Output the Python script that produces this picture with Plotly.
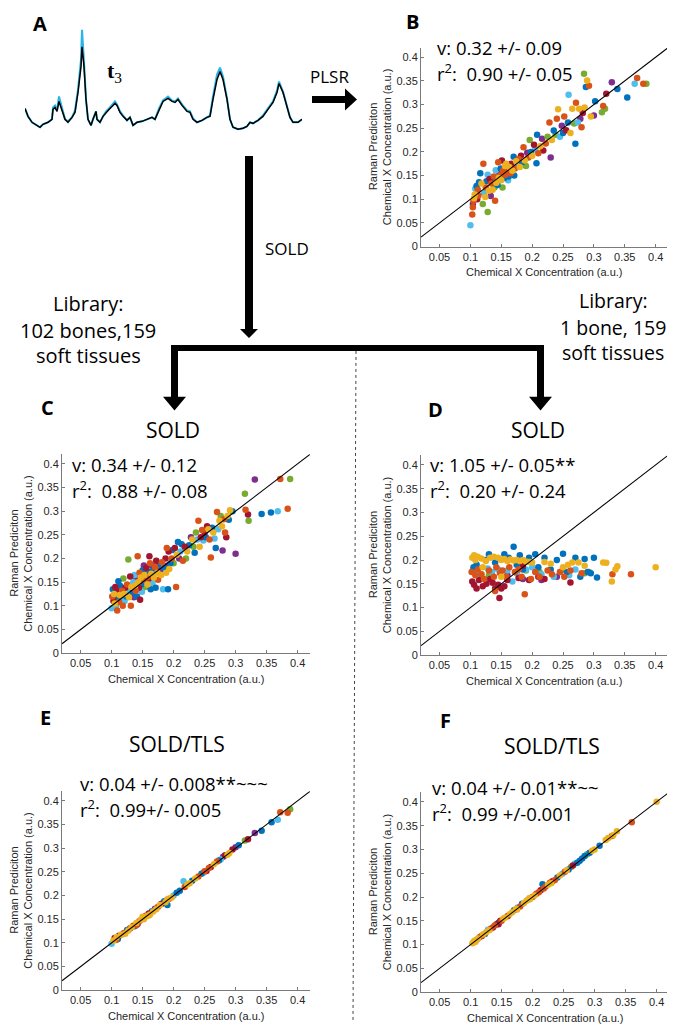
import plotly.graph_objects as go

W, H = 675, 1027
OX, OY = 8, 8          # default page body margin of the html page
FW, FH = W - OX, H - OY

# ---------------- data ----------------
# Panel A: spectrum t3 (channel index, intensity a.u.)
spec_ch = [0, 3, 7, 12, 15, 18, 23, 27, 28, 30, 32, 34, 37, 40, 43, 47, 50, 53, 56, 57,
           59, 61, 63, 66, 68, 71, 72, 75, 78, 81, 84, 87, 90, 92, 95, 98, 102, 105, 108, 112,
           117, 122, 127, 130, 134, 138, 143, 147, 150, 153, 157, 162, 165, 168, 172, 177, 182, 185, 188, 192,
           195, 198, 202, 205, 208, 213, 218, 222, 225, 228, 233, 238, 243, 248, 252, 254, 258, 262, 265, 268,
           273, 277]
spec_black = [0.21, 0.13, 0.07, 0.04, 0.02, 0.05, 0.07, 0.10, 0.20, 0.22, 0.18, 0.28, 0.20, 0.10, 0.07, 0.12, 0.17, 0.37, 0.63, 0.83,
              0.63, 0.30, 0.10, 0.04, 0.10, 0.18, 0.10, 0.07, 0.13, 0.17, 0.20, 0.23, 0.26, 0.24, 0.17, 0.13, 0.09, 0.12, 0.04, 0.07,
              0.08, 0.10, 0.12, 0.10, 0.20, 0.28, 0.31, 0.28, 0.27, 0.30, 0.24, 0.18, 0.17, 0.10, 0.07, 0.09, 0.12, 0.13, 0.30, 0.50,
              0.58, 0.50, 0.30, 0.10, 0.02, 0.00, 0.01, 0.03, 0.07, 0.06, 0.09, 0.13, 0.20, 0.27, 0.37, 0.46, 0.37, 0.23, 0.12, 0.07,
              0.07, 0.10]
spec_cyan = [0.21, 0.13, 0.07, 0.04, 0.02, 0.05, 0.07, 0.10, 0.22, 0.24, 0.19, 0.33, 0.21, 0.10, 0.08, 0.12, 0.19, 0.40, 0.70, 1.00,
             0.68, 0.30, 0.10, 0.04, 0.10, 0.18, 0.10, 0.07, 0.13, 0.18, 0.21, 0.24, 0.28, 0.25, 0.18, 0.14, 0.09, 0.12, 0.04, 0.07,
             0.08, 0.10, 0.12, 0.10, 0.21, 0.29, 0.33, 0.29, 0.28, 0.31, 0.25, 0.19, 0.18, 0.11, 0.07, 0.09, 0.12, 0.14, 0.33, 0.55,
             0.62, 0.53, 0.31, 0.10, 0.02, 0.00, 0.01, 0.03, 0.07, 0.06, 0.09, 0.14, 0.21, 0.28, 0.39, 0.48, 0.38, 0.23, 0.12, 0.07,
             0.07, 0.10]

# Scatter panels: (true concentration, Raman prediction, colour code)
B_points = [
    (0.100, 0.045, 'c'), (0.103, 0.068, 'o'), (0.104, 0.083, 'o'), (0.104, 0.090, 'p'), (0.105, 0.097, 'o'), (0.106, 0.102, 'y'), (0.107, 0.110, 'y'), (0.108, 0.122, 'c'), (0.110, 0.128, 'b'), (0.112, 0.120, 'o'),
    (0.111, 0.100, 'r'), (0.113, 0.108, 'o'), (0.114, 0.136, 'b'), (0.116, 0.155, 'b'), (0.118, 0.133, 'y'), (0.120, 0.090, 'g'), (0.121, 0.175, 'o'), (0.122, 0.113, 'c'), (0.124, 0.105, 'y'), (0.125, 0.125, 'o'),
    (0.126, 0.138, 'b'), (0.128, 0.073, 'g'), (0.128, 0.152, 'c'), (0.130, 0.118, 'y'), (0.131, 0.143, 'r'), (0.133, 0.107, 'p'), (0.134, 0.133, 'o'), (0.136, 0.120, 'y'), (0.137, 0.140, 'b'), (0.138, 0.148, 'o'),
    (0.139, 0.125, 'g'), (0.140, 0.097, 'o'), (0.141, 0.161, 'c'), (0.142, 0.135, 'y'), (0.144, 0.130, 'b'), (0.145, 0.178, 'o'), (0.146, 0.145, 'y'), (0.147, 0.155, 'p'), (0.148, 0.150, 'o'), (0.149, 0.165, 'b'),
    (0.150, 0.140, 'y'), (0.151, 0.182, 'r'), (0.152, 0.125, 'g'), (0.153, 0.160, 'o'), (0.155, 0.145, 'b'), (0.156, 0.170, 'y'), (0.157, 0.152, 'o'), (0.158, 0.175, 'y'), (0.160, 0.160, 'o'), (0.161, 0.140, 'c'),
    (0.162, 0.148, 'b'), (0.163, 0.168, 'y'), (0.165, 0.155, 'o'), (0.166, 0.175, 'r'), (0.168, 0.160, 'y'), (0.170, 0.190, 'b'), (0.171, 0.150, 'b'), (0.172, 0.165, 'o'), (0.174, 0.180, 'y'), (0.176, 0.172, 'c'),
    (0.178, 0.185, 'o'), (0.180, 0.168, 'y'), (0.182, 0.192, 'r'), (0.184, 0.178, 'b'), (0.186, 0.210, 'o'), (0.188, 0.182, 'y'), (0.190, 0.170, 'g'), (0.192, 0.198, 'p'), (0.194, 0.188, 'o'), (0.196, 0.225, 'g'),
    (0.198, 0.200, 'b'), (0.200, 0.192, 'y'), (0.203, 0.215, 'r'), (0.205, 0.205, 'c'), (0.207, 0.176, 'b'), (0.208, 0.236, 'b'), (0.210, 0.197, 'o'), (0.213, 0.212, 'y'), (0.216, 0.228, 'p'), (0.218, 0.203, 'r'),
    (0.222, 0.218, 'o'), (0.225, 0.232, 'g'), (0.228, 0.262, 'o'), (0.230, 0.188, 'p'), (0.232, 0.225, 'y'), (0.235, 0.245, 'b'), (0.238, 0.236, 'g'), (0.240, 0.270, 'o'), (0.242, 0.290, 'y'), (0.245, 0.232, 'c'),
    (0.248, 0.255, 'p'), (0.250, 0.240, 'b'), (0.252, 0.275, 'o'), (0.255, 0.246, 'r'), (0.258, 0.262, 'b'), (0.259, 0.321, 'c'), (0.262, 0.240, 'y'), (0.265, 0.291, 'y'), (0.268, 0.260, 'g'), (0.270, 0.217, 'b'),
    (0.271, 0.304, 'o'), (0.274, 0.262, 'c'), (0.276, 0.291, 'y'), (0.278, 0.270, 'p'), (0.280, 0.252, 'o'), (0.282, 0.282, 'r'), (0.284, 0.365, 'g'), (0.285, 0.294, 'y'), (0.287, 0.337, 'b'), (0.289, 0.351, 'y'),
    (0.292, 0.340, 'o'), (0.295, 0.275, 'y'), (0.300, 0.277, 'p'), (0.302, 0.307, 'b'), (0.313, 0.284, 'g'), (0.315, 0.297, 'o'), (0.318, 0.291, 'g'), (0.320, 0.323, 'r'), (0.329, 0.347, 'p'), (0.338, 0.333, 'b'),
    (0.354, 0.315, 'b'), (0.366, 0.344, 'c'), (0.370, 0.356, 'o'), (0.380, 0.344, 'o'), (0.385, 0.344, 'g'),
]

C_points = [
    (0.100, 0.095, 'c'), (0.101, 0.120, 'o'), (0.102, 0.135, 'b'), (0.103, 0.110, 'r'), (0.104, 0.125, 'y'), (0.105, 0.105, 'y'), (0.106, 0.140, 'r'), (0.107, 0.100, 'c'), (0.108, 0.118, 'b'), (0.109, 0.090, 'o'),
    (0.110, 0.130, 'r'), (0.111, 0.152, 'b'), (0.112, 0.108, 'o'), (0.113, 0.123, 'y'), (0.114, 0.142, 'b'), (0.115, 0.115, 'c'), (0.117, 0.132, 'o'), (0.118, 0.100, 'o'), (0.119, 0.158, 'g'), (0.120, 0.125, 'y'),
    (0.121, 0.110, 'c'), (0.122, 0.138, 'r'), (0.124, 0.120, 'b'), (0.125, 0.145, 'o'), (0.127, 0.198, 'g'), (0.128, 0.118, 'y'), (0.129, 0.132, 'c'), (0.130, 0.162, 'r'), (0.131, 0.100, 'o'), (0.132, 0.140, 'y'),
    (0.134, 0.128, 'b'), (0.135, 0.150, 'c'), (0.136, 0.118, 'p'), (0.137, 0.165, 'c'), (0.138, 0.143, 'y'), (0.139, 0.132, 'o'), (0.140, 0.158, 'p'), (0.141, 0.120, 'b'), (0.142, 0.205, 'o'), (0.143, 0.150, 'y'),
    (0.144, 0.138, 'r'), (0.145, 0.170, 'o'), (0.146, 0.113, 'r'), (0.147, 0.160, 'y'), (0.148, 0.145, 'b'), (0.149, 0.130, 'c'), (0.150, 0.175, 'b'), (0.151, 0.155, 'o'), (0.152, 0.185, 'p'), (0.153, 0.165, 'y'),
    (0.154, 0.140, 'g'), (0.155, 0.150, 'c'), (0.156, 0.180, 'r'), (0.157, 0.160, 'o'), (0.158, 0.145, 'y'), (0.159, 0.172, 'b'), (0.160, 0.158, 'r'), (0.161, 0.205, 'r'), (0.162, 0.190, 'o'), (0.163, 0.135, 'b'),
    (0.164, 0.168, 'y'), (0.165, 0.185, 'p'), (0.166, 0.148, 'c'), (0.167, 0.175, 'b'), (0.168, 0.160, 'y'), (0.170, 0.182, 'o'), (0.171, 0.138, 'b'), (0.172, 0.195, 'r'), (0.174, 0.170, 'y'), (0.175, 0.155, 'o'),
    (0.176, 0.188, 'b'), (0.178, 0.175, 'p'), (0.180, 0.165, 'y'), (0.181, 0.192, 'o'), (0.183, 0.135, 'c'), (0.185, 0.180, 'b'), (0.187, 0.200, 'r'), (0.188, 0.170, 'y'), (0.189, 0.222, 'o'), (0.190, 0.185, 'p'),
    (0.191, 0.135, 'b'), (0.192, 0.215, 'r'), (0.193, 0.178, 'y'), (0.195, 0.190, 'b'), (0.197, 0.200, 'o'), (0.198, 0.218, 'b'), (0.200, 0.190, 'g'), (0.202, 0.222, 'r'), (0.204, 0.140, 'o'), (0.205, 0.208, 'y'),
    (0.207, 0.235, 'b'), (0.209, 0.200, 'p'), (0.211, 0.215, 'c'), (0.213, 0.230, 'b'), (0.215, 0.195, 'o'), (0.218, 0.225, 'r'), (0.220, 0.200, 'g'), (0.222, 0.215, 'y'), (0.225, 0.228, 'b'), (0.228, 0.245, 'p'),
    (0.230, 0.240, 'y'), (0.232, 0.225, 'g'), (0.234, 0.212, 'b'), (0.236, 0.255, 'g'), (0.238, 0.240, 'c'), (0.240, 0.280, 'o'), (0.242, 0.225, 'y'), (0.244, 0.245, 'r'), (0.246, 0.260, 'o'), (0.248, 0.238, 'c'),
    (0.250, 0.255, 'r'), (0.252, 0.245, 'b'), (0.254, 0.268, 'r'), (0.256, 0.262, 'y'), (0.258, 0.240, 'o'), (0.260, 0.202, 'o'), (0.262, 0.265, 'b'), (0.264, 0.255, 'y'), (0.266, 0.242, 'c'), (0.268, 0.222, 'b'),
    (0.270, 0.298, 'o'), (0.272, 0.262, 'c'), (0.274, 0.280, 'y'), (0.276, 0.290, 'g'), (0.278, 0.268, 'y'), (0.279, 0.217, 'p'), (0.281, 0.283, 'o'), (0.283, 0.255, 'o'), (0.285, 0.245, 'r'), (0.287, 0.290, 'y'),
    (0.289, 0.282, 'b'), (0.291, 0.302, 'y'), (0.295, 0.300, 'b'), (0.300, 0.210, 'p'), (0.315, 0.337, 'g'), (0.316, 0.303, 'o'), (0.320, 0.293, 'r'), (0.321, 0.280, 'g'), (0.331, 0.367, 'p'), (0.342, 0.294, 'b'),
    (0.357, 0.297, 'b'), (0.368, 0.300, 'c'), (0.372, 0.368, 'o'), (0.384, 0.305, 'o'), (0.388, 0.368, 'g'),
]

D_points = [
    (0.103, 0.205, 'y'), (0.106, 0.210, 'y'), (0.108, 0.200, 'y'), (0.112, 0.207, 'y'), (0.118, 0.203, 'y'), (0.125, 0.198, 'y'), (0.132, 0.205, 'y'), (0.138, 0.207, 'y'), (0.145, 0.205, 'y'), (0.150, 0.200, 'y'),
    (0.155, 0.202, 'y'), (0.160, 0.198, 'y'), (0.165, 0.201, 'y'), (0.170, 0.199, 'y'), (0.175, 0.200, 'y'), (0.180, 0.198, 'y'), (0.185, 0.200, 'y'), (0.190, 0.197, 'y'), (0.195, 0.196, 'y'), (0.200, 0.195, 'y'),
    (0.220, 0.196, 'y'), (0.230, 0.192, 'y'), (0.250, 0.185, 'y'), (0.258, 0.190, 'y'), (0.265, 0.195, 'y'), (0.275, 0.195, 'y'), (0.285, 0.188, 'y'), (0.315, 0.195, 'y'), (0.320, 0.194, 'y'), (0.335, 0.180, 'y'),
    (0.338, 0.187, 'y'), (0.329, 0.155, 'y'), (0.400, 0.185, 'y'), (0.150, 0.165, 'y'), (0.120, 0.185, 'y'),
    (0.105, 0.185, 'b'), (0.110, 0.190, 'b'), (0.125, 0.200, 'b'), (0.130, 0.212, 'b'), (0.140, 0.195, 'b'), (0.155, 0.212, 'b'), (0.162, 0.205, 'b'), (0.170, 0.228, 'b'), (0.175, 0.190, 'b'), (0.180, 0.210, 'b'),
    (0.185, 0.180, 'b'), (0.195, 0.205, 'b'), (0.205, 0.212, 'b'), (0.210, 0.185, 'b'), (0.220, 0.205, 'b'), (0.230, 0.180, 'b'), (0.240, 0.200, 'b'), (0.250, 0.213, 'b'), (0.256, 0.175, 'b'), (0.270, 0.205, 'b'),
    (0.278, 0.165, 'b'), (0.285, 0.202, 'b'), (0.290, 0.175, 'b'), (0.300, 0.205, 'b'), (0.305, 0.163, 'b'), (0.295, 0.172, 'b'),
    (0.104, 0.178, 'c'), (0.115, 0.170, 'c'), (0.128, 0.182, 'c'), (0.135, 0.175, 'c'), (0.145, 0.180, 'c'), (0.160, 0.178, 'c'), (0.175, 0.172, 'c'), (0.190, 0.180, 'c'), (0.200, 0.185, 'c'), (0.215, 0.170, 'c'),
    (0.235, 0.165, 'c'), (0.260, 0.168, 'c'), (0.270, 0.180, 'c'), (0.168, 0.155, 'c'),
    (0.102, 0.175, 'o'), (0.108, 0.168, 'o'), (0.112, 0.180, 'o'), (0.118, 0.170, 'o'), (0.122, 0.160, 'o'), (0.130, 0.178, 'o'), (0.138, 0.165, 'o'), (0.142, 0.185, 'o'), (0.148, 0.172, 'o'), (0.152, 0.178, 'o'),
    (0.158, 0.165, 'o'), (0.163, 0.185, 'o'), (0.172, 0.175, 'o'), (0.178, 0.180, 'o'), (0.183, 0.165, 'o'), (0.188, 0.128, 'o'), (0.198, 0.160, 'o'), (0.205, 0.175, 'o'), (0.212, 0.165, 'o'), (0.225, 0.178, 'o'),
    (0.232, 0.170, 'o'), (0.245, 0.175, 'o'), (0.252, 0.165, 'o'), (0.262, 0.178, 'o'), (0.280, 0.172, 'o'), (0.330, 0.170, 'o'), (0.360, 0.170, 'o'), (0.140, 0.135, 'o'),
    (0.103, 0.155, 'r'), (0.106, 0.148, 'r'), (0.110, 0.140, 'r'), (0.114, 0.158, 'r'), (0.120, 0.145, 'r'), (0.126, 0.150, 'r'), (0.132, 0.160, 'r'), (0.136, 0.152, 'r'), (0.140, 0.140, 'r'), (0.145, 0.148, 'r'),
    (0.147, 0.120, 'r'), (0.150, 0.140, 'r'), (0.155, 0.145, 'r'), (0.160, 0.158, 'r'), (0.178, 0.162, 'r'), (0.195, 0.158, 'r'), (0.210, 0.165, 'r'), (0.220, 0.160, 'r'), (0.262, 0.153, 'r'), (0.185, 0.188, 'r'),
    (0.130, 0.168, 'g'), (0.190, 0.178, 'g'), (0.212, 0.175, 'g'), (0.250, 0.180, 'g'), (0.285, 0.172, 'g'), (0.292, 0.175, 'g'),
    (0.160, 0.168, 'p'), (0.185, 0.160, 'p'), (0.215, 0.158, 'p'), (0.240, 0.165, 'p'),
]

E_points = [
    (0.100, 0.098, 'c'), (0.103, 0.105, 'y'), (0.105, 0.110, 'r'), (0.107, 0.106, 'o'), (0.108, 0.112, 'y'), (0.110, 0.108, 'b'), (0.112, 0.115, 'r'), (0.115, 0.117, 'y'), (0.118, 0.118, 'c'), (0.120, 0.121, 'o'),
    (0.122, 0.119, 'y'), (0.125, 0.127, 'b'), (0.127, 0.126, 'y'), (0.130, 0.131, 'r'), (0.132, 0.133, 'y'), (0.135, 0.136, 'o'), (0.137, 0.135, 'b'), (0.140, 0.142, 'y'), (0.142, 0.140, 'p'), (0.145, 0.146, 'o'),
    (0.147, 0.149, 'y'), (0.150, 0.152, 'c'), (0.152, 0.150, 'y'), (0.155, 0.157, 'o'), (0.157, 0.156, 'y'), (0.160, 0.162, 'r'), (0.162, 0.160, 'y'), (0.165, 0.167, 'b'), (0.167, 0.166, 'y'), (0.170, 0.172, 'p'),
    (0.172, 0.171, 'y'), (0.175, 0.176, 'o'), (0.178, 0.180, 'y'), (0.180, 0.182, 'r'), (0.183, 0.184, 'b'), (0.185, 0.188, 'b'), (0.187, 0.186, 'y'), (0.190, 0.180, 'b'), (0.190, 0.192, 'y'), (0.193, 0.193, 'o'),
    (0.197, 0.196, 'y'), (0.200, 0.200, 'c'), (0.205, 0.206, 'b'), (0.210, 0.210, 'b'), (0.216, 0.230, 'c'), (0.218, 0.218, 'o'), (0.222, 0.223, 'y'), (0.226, 0.226, 'y'), (0.230, 0.231, 'b'), (0.235, 0.236, 'y'),
    (0.240, 0.240, 'o'), (0.245, 0.246, 'b'), (0.248, 0.248, 'c'), (0.250, 0.251, 'o'), (0.253, 0.252, 'r'), (0.257, 0.258, 'o'), (0.260, 0.260, 'r'), (0.265, 0.266, 'y'), (0.270, 0.272, 'o'), (0.273, 0.274, 'b'),
    (0.276, 0.276, 'c'), (0.280, 0.282, 'p'), (0.283, 0.285, 'r'), (0.287, 0.286, 'y'), (0.290, 0.290, 'y'), (0.295, 0.297, 'r'), (0.300, 0.302, 'p'), (0.305, 0.306, 'b'), (0.315, 0.316, 'g'), (0.320, 0.319, 'r'),
    (0.331, 0.332, 'p'), (0.342, 0.337, 'b'), (0.358, 0.355, 'b'), (0.368, 0.360, 'c'), (0.372, 0.376, 'o'), (0.384, 0.375, 'o'), (0.388, 0.382, 'g'), (0.150, 0.155, 'y'), (0.160, 0.158, 'y'), (0.140, 0.137, 'o'),
]

F_points = [
    (0.103, 0.103, 'y'), (0.105, 0.105, 'o'), (0.106, 0.108, 'y'), (0.108, 0.106, 'y'), (0.110, 0.110, 'c'), (0.112, 0.113, 'y'), (0.115, 0.116, 'o'), (0.118, 0.118, 'r'), (0.120, 0.121, 'y'), (0.123, 0.122, 'b'),
    (0.125, 0.126, 'y'), (0.128, 0.131, 'c'), (0.130, 0.130, 'y'), (0.133, 0.134, 'o'), (0.136, 0.136, 'r'), (0.139, 0.140, 'o'), (0.142, 0.143, 'r'), (0.145, 0.146, 'b'), (0.148, 0.150, 'r'), (0.150, 0.150, 'o'),
    (0.153, 0.155, 'y'), (0.156, 0.157, 'y'), (0.160, 0.160, 'r'), (0.163, 0.164, 'y'), (0.167, 0.168, 'y'), (0.170, 0.172, 'b'), (0.173, 0.175, 'y'), (0.176, 0.178, 'c'), (0.180, 0.180, 'o'), (0.183, 0.186, 'b'),
    (0.186, 0.187, 'y'), (0.190, 0.192, 'y'), (0.193, 0.194, 'c'), (0.196, 0.196, 'y'), (0.200, 0.200, 'o'), (0.203, 0.203, 'y'), (0.206, 0.207, 'o'), (0.210, 0.210, 'o'), (0.213, 0.214, 'r'), (0.216, 0.227, 'b'),
    (0.218, 0.218, 'o'), (0.221, 0.222, 'o'), (0.225, 0.226, 'y'), (0.228, 0.230, 'o'), (0.232, 0.233, 'r'), (0.236, 0.236, 'o'), (0.240, 0.241, 'b'), (0.244, 0.245, 'y'), (0.248, 0.249, 'c'), (0.252, 0.253, 'o'),
    (0.255, 0.256, 'y'), (0.258, 0.258, 'b'), (0.262, 0.263, 'g'), (0.265, 0.266, 'r'), (0.268, 0.270, 'c'), (0.272, 0.272, 'b'), (0.276, 0.276, 'b'), (0.280, 0.281, 'b'), (0.284, 0.286, 'b'), (0.288, 0.290, 'g'),
    (0.292, 0.293, 'b'), (0.296, 0.297, 'y'), (0.300, 0.300, 'y'), (0.308, 0.308, 'b'), (0.318, 0.320, 'y'), (0.322, 0.324, 'y'), (0.328, 0.328, 'o'), (0.330, 0.330, 'y'), (0.336, 0.338, 'y'), (0.360, 0.357, 'o'),
    (0.400, 0.400, 'y'), (0.145, 0.143, 'r'), (0.175, 0.174, 'y'), (0.195, 0.198, 'y'), (0.230, 0.229, 'y'),
]

identity_line = [0.02, 0.42]
x_ticks = [0.05, 0.1, 0.15, 0.2, 0.25, 0.3, 0.35, 0.4]
x_tick_text = ['0.05', '0.1', '0.15', '0.2', '0.25', '0.3', '0.35', '0.4']
y_ticks = [0, 0.05, 0.1, 0.15, 0.2, 0.25, 0.3, 0.35, 0.4]
y_tick_text = ['0', '0.05', '0.1', '0.15', '0.2', '0.25', '0.3', '0.35', '0.4']

stats = {
    'B': ('v: 0.32 +/- 0.09', 'r<sup>2</sup>:&nbsp; 0.90 +/- 0.05'),
    'C': ('v: 0.34 +/- 0.12', 'r<sup>2</sup>:&nbsp; 0.88 +/- 0.08'),
    'D': ('v: 1.05 +/- 0.05**', 'r<sup>2</sup>:&nbsp; 0.20 +/- 0.24'),
    'E': ('v: 0.04 +/- 0.008**~~~', 'r<sup>2</sup>:&nbsp; 0.99+/- 0.005'),
    'F': ('v: 0.04 +/- 0.01**~~', 'r<sup>2</sup>:&nbsp; 0.99 +/-0.001'),
}

palette = {'b': '#0072BD', 'o': '#D95319', 'y': '#EDB120', 'p': '#7E2F8E',
           'g': '#77AC30', 'c': '#4DBEEE', 'r': '#A2142F'}
draw_order = ['p', 'g', 'c', 'b', 'r', 'o', 'y']

# ---------------- layout helpers (page pixels -> paper) ----------------
def PX(px):
    return (px - OX) / FW


def PY(py):
    return 1 - (py - OY) / FH


panel_box = {
    'B': (421, 668, 48, 248),
    'C': (62, 310, 457, 657),
    'D': (421, 668, 458, 659),
    'E': (62, 310, 796, 996),
    'F': (421, 669, 797, 998),
}
panel_points = {'B': B_points, 'C': C_points, 'D': D_points, 'E': E_points, 'F': F_points}
stat_pos = {'B': (435, 48), 'C': (70, 467), 'D': (428, 467), 'E': (78, 788), 'F': (430, 792)}
letter_pos = {'A': (40, 24), 'B': (412, 22), 'C': (47, 410), 'D': (435, 412), 'E': (45, 722), 'F': (445, 725)}
subtitle = {'C': ('SOLD', 173, 432), 'D': ('SOLD', 538, 432), 'E': ('SOLD/TLS', 177, 748), 'F': ('SOLD/TLS', 552, 750)}

TICK_FONT = dict(family='Liberation Sans, Arial', size=11, color='#262626')
TEXT_FONT = 'Open Sans, Noto Sans, sans-serif'
AXIS_COLOR = '#7a7a7a'

fig = go.Figure()
layout = dict(width=FW, height=FH, margin=dict(l=0, r=0, t=0, b=0),
              paper_bgcolor='white', plot_bgcolor='white', showlegend=False)
annotations = []
shapes = []

# Panel A spectrum axis
layout['xaxis'] = dict(domain=[PX(25), PX(302)], range=[0, 277], visible=False, anchor='y')
layout['yaxis'] = dict(domain=[PY(135), PY(25)], range=[-0.05, 1.05], visible=False, anchor='x')
fig.add_trace(go.Scatter(x=spec_ch, y=spec_cyan, mode='lines', line=dict(color='#29B5E8', width=2.0),
                         xaxis='x', yaxis='y', hoverinfo='skip'))
fig.add_trace(go.Scatter(x=spec_ch, y=spec_black, mode='lines', line=dict(color='black', width=1.5),
                         xaxis='x', yaxis='y', hoverinfo='skip'))

for i, key in enumerate(['B', 'C', 'D', 'E', 'F'], start=2):
    x0, x1, y0, y1 = panel_box[key]
    xa, ya = f'x{i}', f'y{i}'
    layout[f'xaxis{i}'] = dict(domain=[PX(x0), PX(x1)], range=[0.02, 0.42], anchor=ya,
                               showline=True, linecolor=AXIS_COLOR, linewidth=1, mirror=False,
                               showgrid=False, zeroline=False, ticks='inside', ticklen=3,
                               tickcolor=AXIS_COLOR, tickvals=x_ticks, ticktext=x_tick_text,
                               tickfont=TICK_FONT, fixedrange=True)
    layout[f'yaxis{i}'] = dict(domain=[PY(y1), PY(y0)], range=[0, 0.42], anchor=xa,
                               showline=True, linecolor=AXIS_COLOR, linewidth=1, mirror=False,
                               showgrid=False, zeroline=False, ticks='inside', ticklen=3,
                               tickcolor=AXIS_COLOR, tickvals=y_ticks, ticktext=y_tick_text,
                               tickfont=TICK_FONT, fixedrange=True)
    pts = panel_points[key]
    for code in draw_order:
        sel = [p for p in pts if p[2] == code]
        if not sel:
            continue
        fig.add_trace(go.Scatter(x=[p[0] for p in sel], y=[p[1] for p in sel], mode='markers',
                                 marker=dict(color=palette[code], size=6.5, line=dict(width=0)),
                                 xaxis=xa, yaxis=ya, hoverinfo='skip'))
    fig.add_trace(go.Scatter(x=identity_line, y=identity_line, mode='lines',
                             line=dict(color='black', width=1.1), xaxis=xa, yaxis=ya,
                             hoverinfo='skip', cliponaxis=False))

    cx = (x0 + x1) / 2
    cy = (y0 + y1) / 2
    annotations.append(dict(text='Chemical X Concentration (a.u.)', x=PX(cx), y=PY(y1 + 26),
                            xref='paper', yref='paper', showarrow=False, xanchor='center',
                            yanchor='middle', font=TICK_FONT))
    annotations.append(dict(text='Raman Prediciton', x=PX(x0 - 48), y=PY(cy), textangle=-90,
                            xref='paper', yref='paper', showarrow=False, xanchor='center',
                            yanchor='middle', font=TICK_FONT))
    annotations.append(dict(text='Chemical X Concentration (a.u.)', x=PX(x0 - 34), y=PY(cy),
                            textangle=-90, xref='paper', yref='paper', showarrow=False,
                            xanchor='center', yanchor='middle', font=TICK_FONT))
    sx, sy = stat_pos[key]
    l1, l2 = stats[key]
    annotations.append(dict(text=l1, x=PX(sx), y=PY(sy), xref='paper', yref='paper',
                            showarrow=False, xanchor='left', yanchor='middle',
                            font=dict(family=TEXT_FONT, size=18.5, color='black')))
    annotations.append(dict(text=l2, x=PX(sx), y=PY(sy + 25), xref='paper', yref='paper',
                            showarrow=False, xanchor='left', yanchor='middle',
                            font=dict(family=TEXT_FONT, size=18.5, color='black')))

for letter, (lx, ly) in letter_pos.items():
    annotations.append(dict(text=f'<b>{letter}</b>', x=PX(lx), y=PY(ly), xref='paper', yref='paper',
                            showarrow=False, xanchor='center', yanchor='middle',
                            font=dict(family=TEXT_FONT, size=20, color='black')))
for key, (txt, sx, sy) in subtitle.items():
    annotations.append(dict(text=txt, x=PX(sx), y=PY(sy), xref='paper', yref='paper',
                            showarrow=False, xanchor='center', yanchor='middle',
                            font=dict(family=TEXT_FONT, size=21, color='black')))

annotations.append(dict(text='<b>t</b><sub>3</sub>', x=PX(114), y=PY(72), xref='paper', yref='paper',
                        showarrow=False, xanchor='center', yanchor='middle',
                        font=dict(family='Liberation Serif, Times New Roman, serif', size=22, color='black')))
annotations.append(dict(text='PLSR', x=PX(329), y=PY(77), xref='paper', yref='paper', showarrow=False,
                        xanchor='center', yanchor='middle', font=dict(family=TEXT_FONT, size=17, color='black')))
annotations.append(dict(text='SOLD', x=PX(263), y=PY(250), xref='paper', yref='paper', showarrow=False,
                        xanchor='left', yanchor='middle', font=dict(family=TEXT_FONT, size=17, color='black')))
for txt, lx, ys, fs in [(['Library:', '102 bones,159', 'soft tissues'], 88, [305, 332, 358], 20),
                        (['Library:', '1 bone, 159', 'soft tissues'], 613, [302, 329, 355], 19.5)]:
    for t, yy in zip(txt, ys):
        annotations.append(dict(text=t, x=PX(lx), y=PY(yy), xref='paper', yref='paper', showarrow=False,
                                xanchor='center', yanchor='middle',
                                font=dict(family=TEXT_FONT, size=fs, color='black')))


def poly(points):
    d = 'M ' + ' L '.join(f'{PX(a):.5f} {PY(b):.5f}' for a, b in points) + ' Z'
    return dict(type='path', path=d, xref='paper', yref='paper', fillcolor='black',
                line=dict(width=0), layer='above')


shapes.append(poly([(312, 96.5), (345, 96.5), (345, 89), (357, 100), (345, 111), (345, 103.5), (312, 103.5)]))
shapes.append(poly([(245, 157), (253, 157), (253, 331), (258, 331), (249, 340), (240, 331), (245, 331)]))
shapes.append(poly([(171, 347), (544, 347), (544, 353), (171, 353)]))
shapes.append(poly([(171, 347), (178, 347), (178, 399), (186, 399), (174.5, 413), (163, 399), (171, 399)]))
shapes.append(poly([(537, 347), (544, 347), (544, 399), (552, 399), (540.5, 413), (529, 399), (537, 399)]))
shapes.append(dict(type='line', x0=PX(356), x1=PX(353), y0=PY(353), y1=PY(1027), xref='paper', yref='paper',
                   line=dict(color='#444444', width=1, dash='dot')))

layout['annotations'] = annotations
layout['shapes'] = shapes
fig.update_layout(**layout)
fig.write_html('out.html')
